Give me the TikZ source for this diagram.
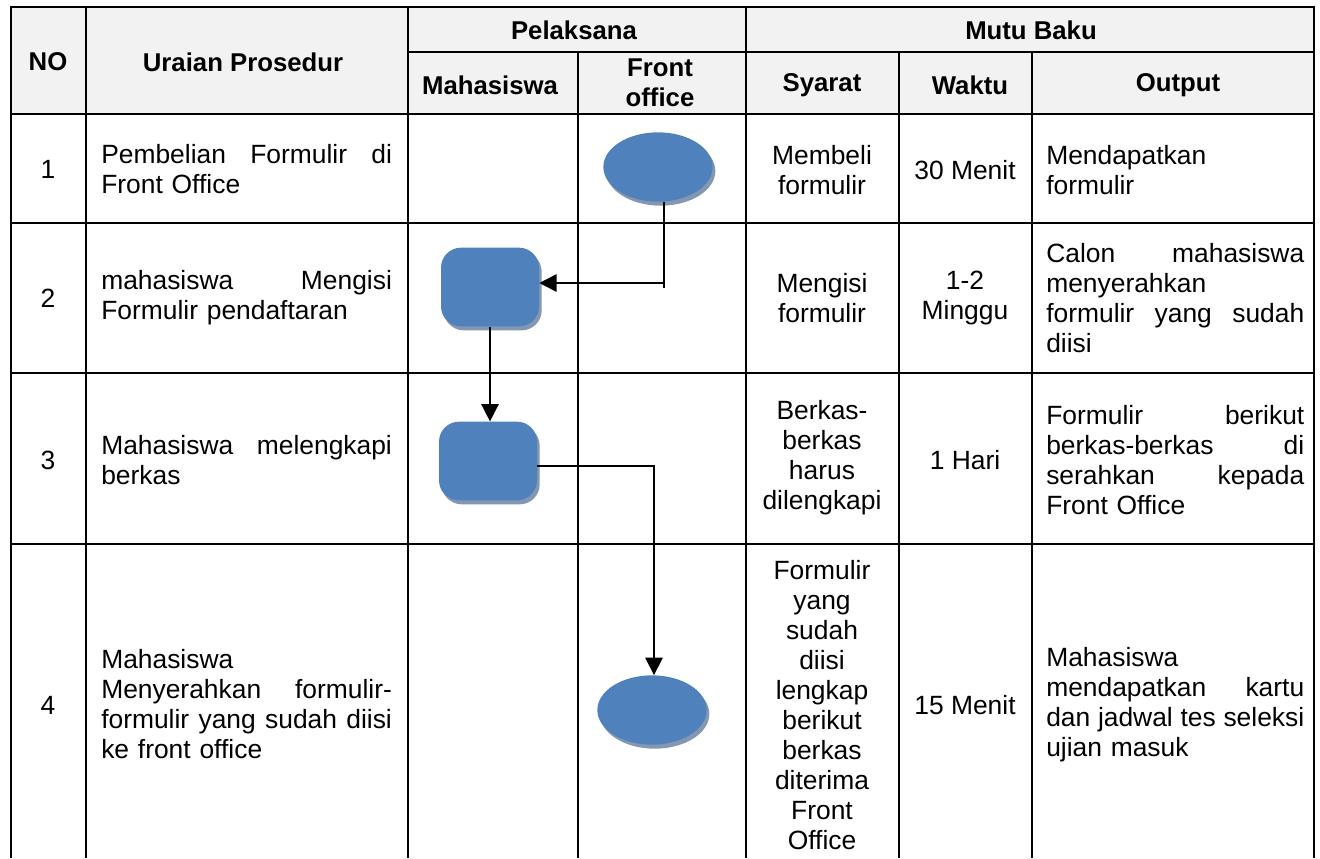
\documentclass[tikz,border=0pt]{standalone}
\usepackage{fontspec}
\setmainfont{Liberation Sans}
\usetikzlibrary{shapes.geometric,arrows.meta,shadows}
\definecolor{hdrgray}{HTML}{F2F2F2}
\definecolor{shapeblue}{HTML}{4F81BD}
\definecolor{shadowblue}{HTML}{8497B0}
\begin{document}
\begin{tikzpicture}[
  x=0.75pt, y=-0.75pt,
  every node/.style={font=\fontsize{19.8}{22.5}\selectfont, inner sep=0pt},
  hdr/.style={font=\fontsize{19.3}{22.5}\selectfont\bfseries, align=center},
  cell/.style={align=center},
  prose/.style={anchor=west, text width=218pt, align=left},
  outtext/.style={anchor=west, text width=193.5pt, align=left},
  grid/.style={line width=1.6pt},
  link/.style={line width=1.2pt},
  flow/.style={link, -{Triangle[length=13pt,width=13pt]}},
  shade/.style={drop shadow={shadow xshift=2pt, shadow yshift=-3pt, fill=shadowblue, opacity=1}},
  terminal/.style={ellipse, fill=shapeblue, minimum width=82pt, minimum height=52pt, shade},
  task/.style={rectangle, rounded corners=15pt, fill=shapeblue, minimum width=73.5pt, minimum height=59pt, shade}
]
\useasboundingbox (0,0) rectangle (1320,858);
\fill[hdrgray] (11,7) rectangle (1314,114);

\draw[grid] (11,858) -- (11,7) -- (1314,7) -- (1314,858);
\draw[grid] (86,7) -- (86,858) (408,7) -- (408,858) (746,7) -- (746,858);
\draw[grid] (578,52) -- (578,858) (899,52) -- (899,858) (1032,52) -- (1032,858);
\draw[grid] (408,52) -- (1314,52);
\draw[grid] (11,114) -- (1314,114) (11,223) -- (1314,223)
  (11,373) -- (1314,373) (11,544) -- (1314,544);

\node[hdr] (no) at (48,62) {NO};
\node[hdr] (uraian) at (243,62) {Uraian Prosedur};
\node[hdr] (pelaksana) at (574,30) {Pelaksana};
\node[hdr] (mutu) at (1031,30) {Mutu Baku};
\node[hdr] (mhs) at (490,85) {Mahasiswa};
\node[hdr] (front) at (660,83) {Front\\office};
\node[hdr] (syarat) at (822,85) {Syarat};
\node[hdr] (waktu) at (970,85) {Waktu};
\node[hdr] (output) at (1178,85) {Output};

\node (no1) at (48,169) {1};
\node[prose] (ur1) at (101,169) {Pembelian\hfill Formulir\hfill di\\Front Office};
\node[cell] (sy1) at (822,170) {Membeli\\formulir};
\node[cell] (wk1) at (965,170) {30 Menit};
\node[outtext] (out1) at (1046,170) {Mendapatkan\\formulir};

\node (no2) at (48,298) {2};
\node[prose] (ur2) at (101,298) {mahasiswa\hfill Mengisi\\Formulir pendaftaran};
\node[cell] (sy2) at (822,298) {Mengisi\\formulir};
\node[cell] (wk2) at (965,298) {1-2\\Minggu};
\node[outtext] (out2) at (1046,298) {Calon\hfill mahasiswa\\menyerahkan\\formulir\hfill yang\hfill sudah\\diisi};

\node (no3) at (48,460) {3};
\node[prose] (ur3) at (101,460) {Mahasiswa\hfill melengkapi\\berkas};
\node[cell] (sy3) at (822,458) {Berkas-\\berkas\\harus\\dilengkapi};
\node[cell] (wk3) at (965,460) {1 Hari};
\node[outtext] (out3) at (1046,460) {Formulir\hfill berikut\\berkas-berkas\hfill di\\serahkan\hfill kepada\\Front Office};

\node (no4) at (48,705) {4};
\node[prose] (ur4) at (101,704) {Mahasiswa\\Menyerahkan\hfill formulir-\\formulir\hfill yang\hfill sudah\hfill diisi\\ke front office};
\node[cell] (sy4) at (822,705) {Formulir\\yang\\sudah\\diisi\\lengkap\\berikut\\berkas\\diterima\\Front\\Office};
\node[cell] (wk4) at (965,705) {15 Menit};
\node[outtext] (out4) at (1046,705) {Mahasiswa\\mendapatkan\hfill kartu\\dan\hfill jadwal\hfill tes\hfill seleksi\\ujian masuk};

\node[terminal] (fo1) at (658,167) {};
\node[task] (mh2) at (490,287) {};
\node[task] (mh3) at (488,461) {};
\node[terminal] (fo4) at (652,710) {};

\coordinate (bend1) at (664,283);
\coordinate (bend3) at (654,466);
\draw[flow] (fo1.south -| bend1) -- (bend1) -- (mh2.east |- bend1);
\draw[link] (bend1) -- ++(0,5);
\draw[flow] (mh2.south) -- (mh2.south |- mh3.north);
\draw[flow] (mh3.east |- bend3) -- (bend3) -- (bend3 |- fo4.north);
\end{tikzpicture}
\end{document}
